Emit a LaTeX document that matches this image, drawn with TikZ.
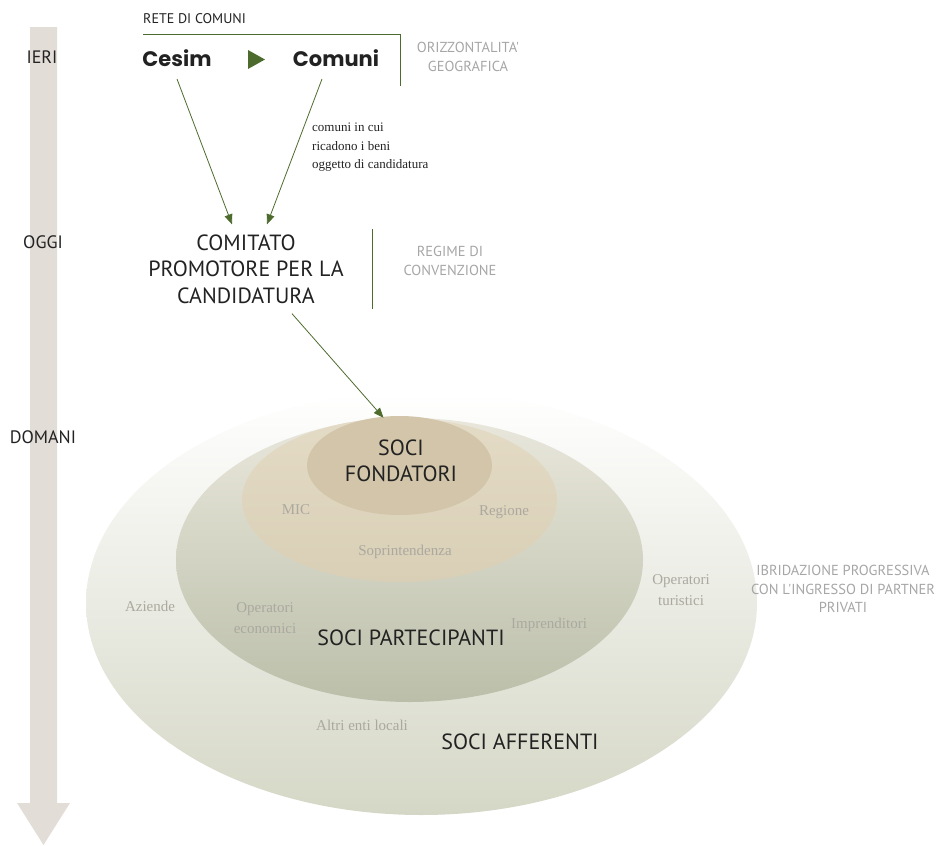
\documentclass[tikz,border=0pt]{standalone}
\usepackage{fontspec}
\setmainfont{Liberation Serif}
\newfontfamily\dinfont{PT Sans}
\newfontfamily\geofont{Poppins}
\usetikzlibrary{arrows.meta,shapes.geometric,calc}
\definecolor{gr}{HTML}{4E6B2E}
\definecolor{shaftcol}{HTML}{E3DDD8}
\definecolor{darktxt}{HTML}{222222}
\definecolor{sidegrey}{HTML}{A6A6A6}
\definecolor{lblgrey}{HTML}{ABA89F}
\definecolor{outerbot}{HTML}{D5D7C6}
\definecolor{midtop}{HTML}{E9E7DC}
\definecolor{midbot}{HTML}{BBBFA9}
\definecolor{inntop}{HTML}{E4DBC6}
\definecolor{innbot}{HTML}{D9CFB6}
\definecolor{fondcol}{HTML}{D2C5A9}
\tikzset{
  big/.style={font=\dinfont\fontsize{22}{26.5}\selectfont, text=darktxt, align=center, inner sep=0pt},
  timelbl/.style={font=\dinfont\fontsize{18}{20}\selectfont, text=darktxt, inner sep=0pt},
  sidelbl/.style={font=\dinfont\fontsize{14.5}{18.5}\selectfont, text=sidegrey, align=center, inner sep=0pt},
  member/.style={font=\fontsize{15}{21}\selectfont, text=lblgrey, align=center, inner sep=0pt},
  brand/.style={font=\geofont\bfseries\fontsize{21}{26}\selectfont, text=darktxt, inner sep=0pt},
  garrow/.style={draw=gr, line width=0.8pt, -{Triangle[length=10pt,width=8pt]}, fill=none},
  gline/.style={draw=gr, line width=0.9pt},
  ring/.style={ellipse, inner sep=0pt, draw=none},
}
\begin{document}
\begin{tikzpicture}[x=1pt,y=-1pt]
\useasboundingbox (0,0) rectangle (938,846);
% timeline arrow
\fill[shaftcol] (30,27) -- (57,27) -- (57,803) -- (70,803) -- (43.5,845) -- (17,803) -- (30,803) -- cycle;
\node[timelbl] (ieri) at (42,57) {IERI};
\node[timelbl] (oggi) at (43,242) {OGGI};
\node[timelbl] (domani) at (43,437) {DOMANI};

% rings
\node[ring, minimum width=671pt, minimum height=424pt, top color=white, bottom color=outerbot] (outer) at (421.5,603) {};
\node[ring, minimum width=467pt, minimum height=284pt, top color=midtop, bottom color=midbot] (middle) at (409.5,560) {};
\node[ring, minimum width=315pt, minimum height=164pt, top color=inntop, bottom color=innbot] (inner) at (399.5,500) {};
\node[ring, minimum width=185pt, minimum height=99pt, fill=fondcol] (fond) at (399.5,465.5) {};

% top part
\node[font=\dinfont\fontsize{14}{16}\selectfont, text=darktxt, inner sep=0pt, anchor=west] (rete) at (143,19) {RETE DI COMUNI};
\coordinate (bracketend) at (400,86);
\draw[gline] ([yshift=-10pt]rete.south west) -| (bracketend);
\node[brand] (cesim) at (177,58) {Cesim};
\node[brand] (comuni) at (336,58) {Comuni};
\fill[gr] (248,50) -- (265,59.5) -- (248,69) -- cycle;
\node[sidelbl] (oriz) at (468,57) {ORIZZONTALITA'\\GEOGRAFICA};
\node[font=\fontsize{13}{18.5}\selectfont, text=darktxt, align=left, anchor=north west, inner sep=0pt] (note) at (312,123) {comuni in cui\\ricadono i beni\\oggetto di candidatura};

\node[big] (comitato) at (246,269) {COMITATO\\PROMOTORE PER LA\\CANDIDATURA};
\node[sidelbl] (regime) at (450,261) {REGIME DI\\CONVENZIONE};
\coordinate (vtop) at (372,229);
\coordinate (vbot) at (372,309);
\draw[gline] (vtop) -- (vbot);

\draw[garrow] ([xshift=0pt,yshift=-21pt]cesim.center) -- ([xshift=-14pt,yshift=10pt]comitato.north);
\draw[garrow] ([xshift=-14pt,yshift=-21pt]comuni.center) -- ([xshift=21pt,yshift=10pt]comitato.north);
\draw[garrow] ([xshift=46pt,yshift=-10pt]comitato.south) -- ([xshift=-16pt,yshift=-2pt]fond.north);

% ring labels
\node[big] (fondlbl) at (401,461) {SOCI\\FONDATORI};
\node[member] (mic) at (296,510) {MIC};
\node[member] (regione) at (504,512) {Regione};
\node[member] (soprint) at (405,552) {Soprintendenza};
\node[member] (aziende) at (150,606) {Aziende};
\node[member] (opecon) at (265,618) {Operatori\\economici};
\node[member] (impr) at (549,625) {Imprenditori};
\node[big] (partlbl) at (411,638) {SOCI PARTECIPANTI};
\node[member] (optur) at (681,590) {Operatori\\turistici};
\node[member] (altri) at (362,725) {Altri enti locali};
\node[big] (affLbl) at (520,742) {SOCI AFFERENTI};
\node[sidelbl] (ibrid) at (843,589) {IBRIDAZIONE PROGRESSIVA\\CON L'INGRESSO DI PARTNER\\PRIVATI};
\end{tikzpicture}
\end{document}
